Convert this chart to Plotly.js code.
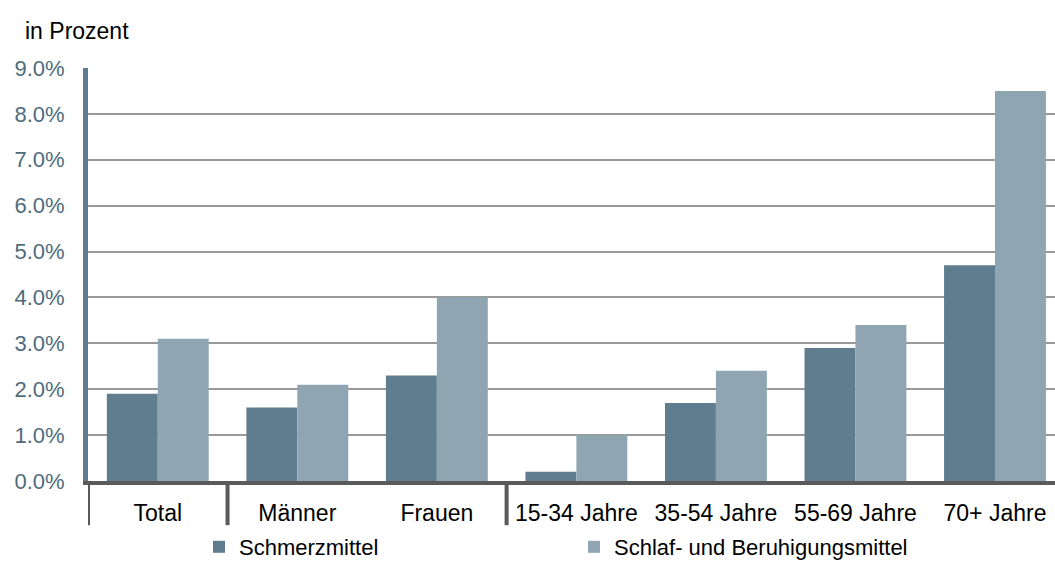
<!DOCTYPE html>
<html>
<head>
<meta charset="utf-8">
<script src="https://cdn.plot.ly/plotly-3.0.1.min.js"></script>
<style>html,body{margin:0;padding:0;background:#fff;}#chart{width:1055px;height:563px;}</style>
</head>
<body>
<div id="chart"></div>
<script>
const categories = ["Total", "Männer", "Frauen", "15-34 Jahre", "35-54 Jahre", "55-69 Jahre", "70+ Jahre"];
const schmerzmittel = [1.9, 1.6, 2.3, 0.2, 1.7, 2.9, 4.7];
const schlafmittel = [3.1, 2.1, 4.0, 1.0, 2.4, 3.4, 8.5];
const seriesNames = ["Schmerzmittel", "Schlaf- und Beruhigungsmittel"];
const tickVals = [0, 1, 2, 3, 4, 5, 6, 7, 8, 9];
const tickText = ["0.0%", "1.0%", "2.0%", "3.0%", "4.0%", "5.0%", "6.0%", "7.0%", "8.0%", "9.0%"];
const groupSeparators = [-0.5, 0.5, 2.5];

const font = "Liberation Sans, Arial, sans-serif";

const traces = [
  {type: "bar", name: seriesNames[0], x: categories, y: schmerzmittel, marker: {color: "#607d8f"}, hoverinfo: "skip"},
  {type: "bar", name: seriesNames[1], x: categories, y: schlafmittel, marker: {color: "#8fa5b2"}, hoverinfo: "skip"}
];

const shapes = groupSeparators.map(v => ({
  type: "line", xref: "x", yref: "paper", x0: v, x1: v, y0: 0, y1: -0.107,
  line: {color: "#5a5a5a", width: 4}, layer: "above"
}));

const layout = {
  width: 1055, height: 563,
  margin: {l: 88, r: 0, t: 68, b: 82},
  paper_bgcolor: "#ffffff", plot_bgcolor: "#ffffff",
  barmode: "group", bargap: 0.27, bargroupgap: 0,
  font: {family: font, color: "#000"},
  title: {text: "in Prozent", x: 25/1055, xanchor: "left", xref: "container", y: 0.945, yanchor: "middle", yref: "container", font: {family: font, size: 23, color: "#000"}},
  xaxis: {
    type: "category", range: [-0.5, 6.43],
    showgrid: false, zeroline: false,
    showline: true, linecolor: "#5a5a5a", linewidth: 4,
    ticks: "", tickfont: {family: font, size: 23, color: "#000"},
    ticklabelstandoff: 8, fixedrange: true
  },
  yaxis: {
    range: [0, 9], tickvals: tickVals, ticktext: tickText,
    showgrid: true, gridcolor: "#999999", gridwidth: 2,
    zeroline: false, showline: true, linecolor: "#5f7d8f", linewidth: 5,
    ticks: "", tickfont: {family: font, size: 22, color: "#4e6b7c"},
    ticklabelstandoff: 14, fixedrange: true
  },
  shapes: shapes,
  showlegend: true,
  legend: {
    orientation: "h", xref: "container", yref: "container",
    x: 199/1055, xanchor: "left", y: 16/563, yanchor: "middle",
    font: {family: font, size: 22, color: "#000"},
    itemwidth: 30, entrywidth: 330, entrywidthmode: "pixels",
    traceorder: "normal", bgcolor: "rgba(0,0,0,0)"
  }
};

Plotly.newPlot("chart", traces, layout, {displayModeBar: false, staticPlot: true});
</script>
</body>
</html>
